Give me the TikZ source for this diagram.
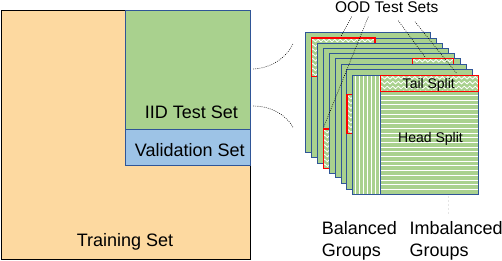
\documentclass[tikz,border=0pt]{standalone}
\usepackage{fontspec}
\setmainfont{Liberation Sans}
\usetikzlibrary{decorations.pathmorphing}
\definecolor{trainfill}{HTML}{FDD9A0}
\definecolor{greenfill}{HTML}{A9D18E}
\definecolor{valfill}{HTML}{9DC3E6}
\definecolor{edgeblue}{HTML}{2F5597}
\definecolor{redline}{HTML}{FF0000}
\begin{document}
\begin{tikzpicture}[x=1pt,y=-1pt,
  sheet/.style={fill=greenfill, draw=edgeblue, line width=1pt, inner sep=0pt,
    minimum width=125.4pt, minimum height=119.6pt, anchor=north west},
  zig/.style={fill=greenfill, draw=redline, line width=1.1pt, inner sep=0pt, anchor=north west,
    path picture={
      \foreach \k in {0,...,9}
        \draw[white, line width=0.8pt, decorate, decoration={snake, segment length=5.5pt, amplitude=1.3pt}]
          ([yshift={-2.6pt-4.8pt*\k}, xshift=-6pt]path picture bounding box.north west) --
          ([yshift={-2.6pt-4.8pt*\k}, xshift=6pt]path picture bounding box.north east);
    }},
  vstripes/.style={fill=greenfill, draw=edgeblue, line width=1pt, inner sep=0pt, anchor=north west,
    path picture={
      \foreach \k in {0,...,6}
        \fill[white] ([xshift={2.3pt+4pt*\k}]path picture bounding box.north west) rectangle
          ([xshift={3.6pt+4pt*\k}]path picture bounding box.south west);
    }},
  hstripes/.style={fill=greenfill, draw=edgeblue, line width=1pt, inner sep=0pt, anchor=north west,
    path picture={
      \foreach \k in {0,...,22}
        \fill[white] ([yshift={-3.4pt-4.7pt*\k}]path picture bounding box.north west) rectangle
          ([yshift={-4.4pt-4.7pt*\k}]path picture bounding box.north east);
    }},
  dotline/.style={line width=0.6pt, dash pattern=on 0.8pt off 1.3pt},
  big/.style={font=\fontsize{18}{22}\selectfont, inner sep=0pt},
  small/.style={font=\fontsize{14}{16}\selectfont, inner sep=0pt}
]
\useasboundingbox (0,0) rectangle (502,260);

% left panel
\node[fill=trainfill, draw=black, line width=1pt, inner sep=0pt, minimum width=249.8pt, minimum height=249.3pt, anchor=north west] (train) at (0.5,9.5) {};
\node[fill=greenfill, draw=edgeblue, line width=1pt, inner sep=0pt, minimum width=125pt, minimum height=119.8pt, anchor=north west] (iid) at (125.3,9.5) {};
\node[fill=valfill, draw=edgeblue, line width=1pt, inner sep=0pt, minimum width=125pt, minimum height=35.7pt, anchor=north west] (val) at (125.3,129.3) {};
\node[big, anchor=base] (trainlbl) at (125,246) {Training Set};
\node[big, anchor=base] (iidlbl) at (191.3,118.3) {IID Test Set};
\node[big, anchor=base] (vallbl) at (189.7,156) {Validation Set};

% stacked sheets
\node[sheet] (s0) at (305,32.3) {};
\node[sheet] (s1) at (310.9,37.6) {};
\node[zig, minimum width=63.5pt, minimum height=38.5pt] (t1) at (310.9,37.4) {};
\node[sheet] (s2) at (316.8,42.9) {};
\node[sheet] (s3) at (322.8,48.2) {};
\node[zig, minimum width=28pt, minimum height=39.4pt] (t3) at (322.8,128.4) {};
\node[sheet] (s4) at (328.7,53.0) {};
\node[sheet] (s5) at (334.6,57.8) {};
\node[zig, minimum width=40.4pt, minimum height=20pt] (t5) at (412.3,57.6) {};
\node[sheet] (s6) at (340.5,63.8) {};
\node[sheet] (s7) at (346.4,69.2) {};
\node[zig, minimum width=28pt, minimum height=39pt] (t7) at (346.4,94.3) {};
\node[sheet] (s8) at (352.3,74.7) {};
\node[vstripes, minimum width=27.7pt, minimum height=119.6pt] (bal) at (352.3,74.7) {};
\node[hstripes, minimum width=97.7pt, minimum height=103.3pt] (head) at (380,91) {};
\node[zig, minimum width=97.7pt, minimum height=16.3pt] (tail) at (380,74.7) {};
\node[small, anchor=base] (taillbl) at (428.8,88.3) {Tail Split};
\node[small, anchor=base] (headlbl) at (430.5,142.7) {Head Split};

% faint guide line
\coordinate (g1) at (448,195.5);
\coordinate (g2) at (448,215);
\draw[black!10, line width=0.6pt, dash pattern=on 2pt off 2pt] (g1) -- (g2);

% labels
\node[font=\fontsize{15.5}{18}\selectfont, inner sep=0pt, anchor=base] (ood) at (386.7,12.3) {OOD Test Sets};
\node[big, align=left, anchor=north west] (balgrp) at (321.7,220.9) {Balanced\\Groups};
\node[big, align=left, anchor=north west] (imbgrp) at (409.3,220.9) {Imbalanced\\Groups};

% dotted connectors from OOD label
\coordinate (o1) at (351.7,16.7);
\coordinate (o2) at (368.3,16.7);
\coordinate (o3) at (398.3,20.7);
\coordinate (o4) at (415,21.7);
\coordinate (e1) at (340.7,36.8);
\coordinate (e2) at (323.5,127.5);
\coordinate (e3) at (425,57);
\coordinate (e4) at (456.7,73.5);
\draw[dotline] (o1) -- (e1);
\draw[dotline] (o2) -- (e2);
\draw[dotline] (o3) -- (e3);
\draw[dotline] (o4) -- (e4);

% zoom curves
\coordinate (c1s) at (253.3,69);
\coordinate (c1e) at (293.3,43.3);
\coordinate (c2s) at (253.3,106);
\coordinate (c2e) at (293.3,127.7);
\draw[dotline] (c1s) .. controls (272,68) and (287,57) .. (c1e);
\draw[dotline] (c2s) .. controls (272,106) and (287,116) .. (c2e);
\end{tikzpicture}
\end{document}
